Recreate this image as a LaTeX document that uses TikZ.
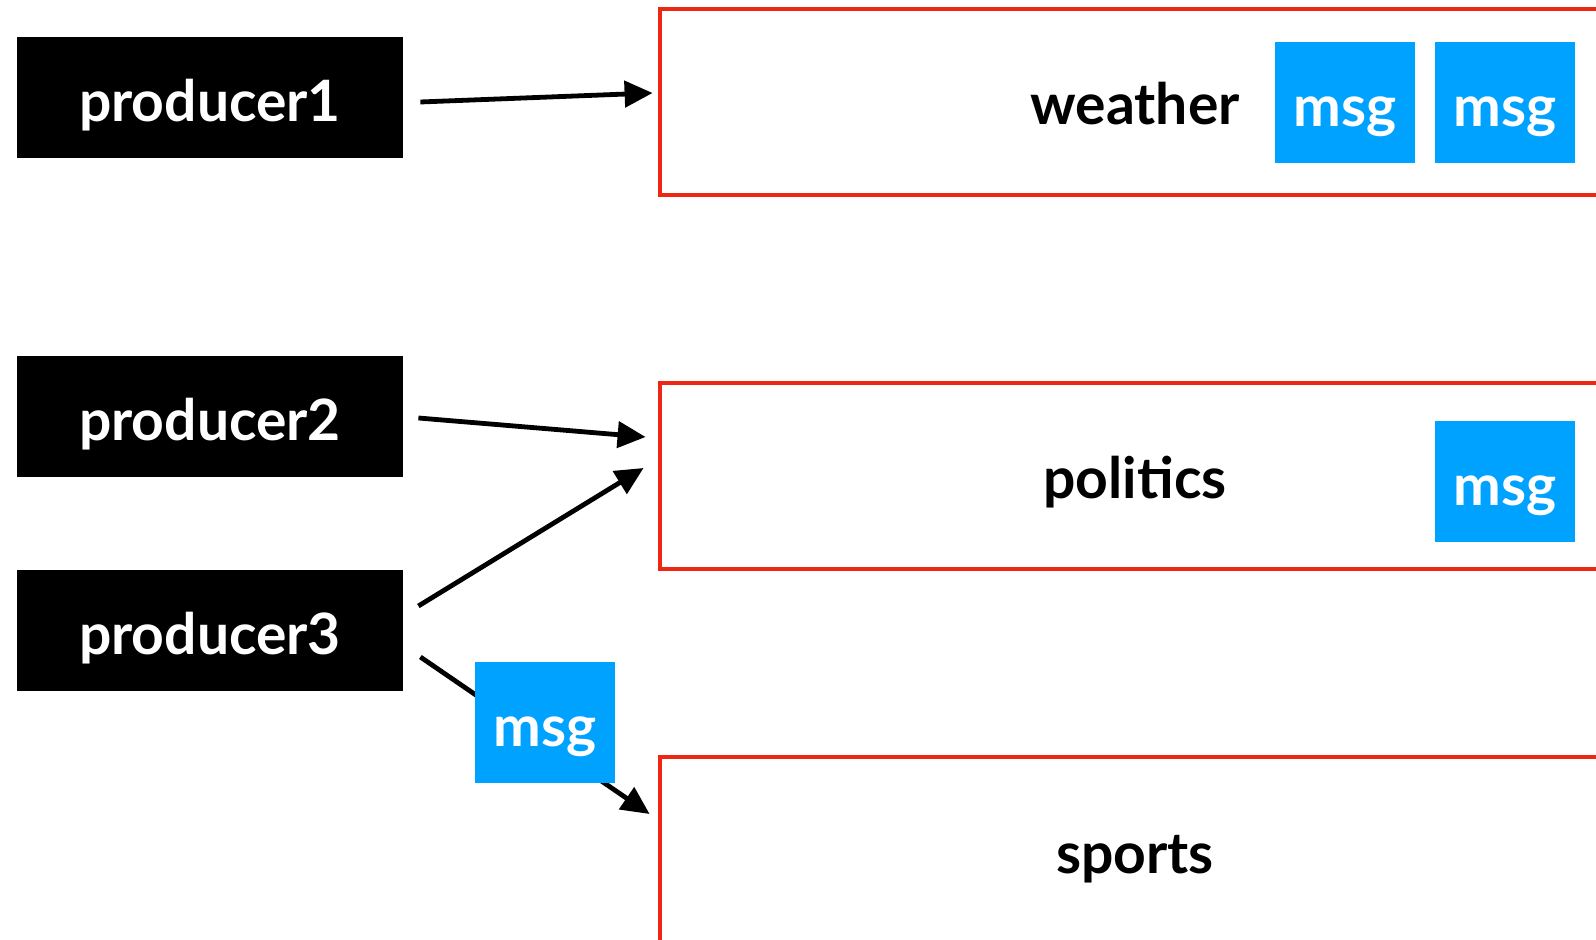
\documentclass[tikz,border=0pt]{standalone}
\usepackage{fontspec}
\setmainfont{Lato}
\usetikzlibrary{arrows.meta,calc}
\definecolor{msgblue}{RGB}{0,162,255}
\definecolor{topicred}{RGB}{238,39,20}

\begin{document}
\begin{tikzpicture}[x=0.5pt,y=-0.5pt,
    every node/.style={font=\fontsize{28.5}{34}\selectfont\bfseries,text height=26pt,text depth=2pt},
    producer/.style={fill=black,text=white,minimum width=193pt,minimum height=60.5pt,inner sep=0pt},
    topic/.style={draw=topicred,line width=2.4pt,minimum width=476pt,minimum height=93pt,inner sep=0pt},
    msg/.style={fill=msgblue,text=white,minimum width=70pt,minimum height=60.5pt,inner sep=0pt},
    flow/.style={line width=2.4pt,-{Triangle[length=14pt,width=13pt]}}]

\clip (0,0) rectangle (1596,940);
\useasboundingbox (0,0) rectangle (1596,940);

% producers
\node[producer] (p1) at (210,97.5) {producer1};
\node[producer] (p2) at (210,416.5) {producer2};
\node[producer] (p3) at (210,630.5) {producer3};

% topics
\node[topic] (weather) at (1136,102) {};
\node[topic] (politics) at (1136,476) {};
\node[topic] (sports) at (1136,850) {};
\node at (1135,101) {weather};
\node at (1135,475) {politics};
\node at (1135,849) {sports};

% queued messages
\node[msg] (m1) at (1345,102.5) {msg};
\node[msg] (m2) at (1505,102.5) {msg};
\node[msg] (m3) at (1505,482) {msg};

\draw[flow] ($(p1.east)+(17,4.5)$) -- ($(weather.west)+(-5,-9)$);
\draw[flow] ($(p2.east)+(15,1.5)$) -- ($(politics.west)+(-12,-39)$);
\draw[flow] ($(p3.east)+(15,-24.5)$) -- ($(politics.west)+(-14,-8)$);
\draw[flow] ($(p3.east)+(17,26.5)$) -- ($(sports.west)+(-8,-36)$);

% message on its way
\node[msg] (m4) at (545,722.5) {msg};

\end{tikzpicture}
\end{document}
